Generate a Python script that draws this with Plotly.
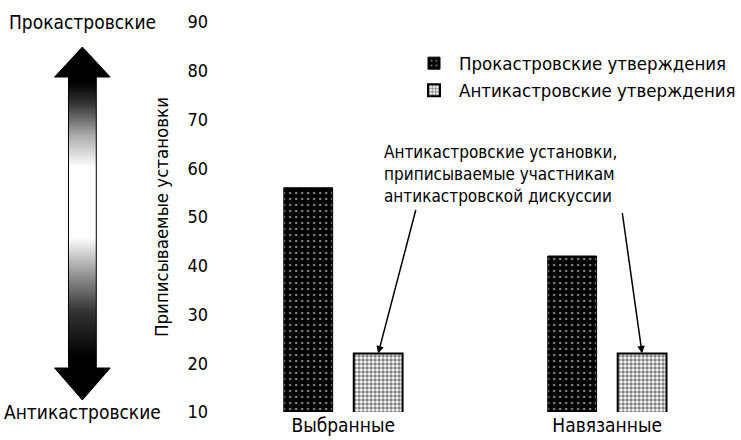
import plotly.graph_objects as go

categories = ["Выбранные", "Навязанные"]
pro_values = [56, 42]
anti_values = [22, 22]
series_names = ["Прокастровские утверждения", "Антикастровские утверждения"]
y_ticks = [10, 20, 30, 40, 50, 60, 70, 80, 90]
y_title = "Приписываемые установки"
top_label = "Прокастровские"
bottom_label = "Антикастровские"
note_text = "Антикастровские установки,<br>приписываемые участникам<br>антикастровской дискуссии"

FONT = "DejaVu Sans Condensed, Liberation Sans Narrow, Liberation Sans, sans-serif"
W, H = 741, 440
ML, MR, MT, MB = 0, 10, 22, 28
PW = W - ML - MR
PH = H - MT - MB
X0 = 210  # left edge of bar plot in px

def py2val(py):
    return 90 - (py - MT) * 80.0 / PH

fig = go.Figure()

BW = 0.185
fig.add_trace(go.Bar(
    x=categories, y=pro_values, name=series_names[0],
    width=BW, offset=-0.225,
    marker=dict(color="black", line=dict(color="black", width=1),
                pattern=dict(shape=".", bgcolor="black", fgcolor="white", size=6, solidity=0.15)),
))
fig.add_trace(go.Bar(
    x=categories, y=anti_values, name=series_names[1],
    width=BW, offset=0.04,
    marker=dict(color="white", line=dict(color="black", width=2),
                pattern=dict(shape=".", bgcolor="white", fgcolor="black", size=4, solidity=0.55)),
))

# decorative double-headed gradient arrow (left)
cx = 83
sh, hd = 14, 28
tip_t, base_t, base_b, tip_b = 47, 77, 368, 400
ax_px = [cx, cx + hd, cx + sh, cx + sh, cx + hd, cx, cx - hd, cx - sh, cx - sh, cx - hd, cx]
ay_px = [tip_t, base_t, base_t, base_b, base_b, tip_b, base_b, base_b, base_t, base_t, tip_t]
fig.add_trace(go.Scatter(
    x=ax_px, y=[py2val(v) for v in ay_px], xaxis="x2", yaxis="y",
    mode="lines", line=dict(color="black", width=1), fill="toself",
    fillgradient=dict(type="vertical", colorscale=[
        [0.0, "black"], [0.12, "black"], [0.25, "#333333"], [0.36, "#999999"],
        [0.46, "white"], [0.66, "white"], [0.75, "#aaaaaa"], [0.84, "#333333"],
        [0.9, "black"], [1.0, "black"]]),
    showlegend=False, hoverinfo="skip",
))

dom0 = X0 / (W - MR)
fig.update_layout(
    width=W, height=H,
    margin=dict(l=ML, r=MR, t=MT, b=MB),
    paper_bgcolor="white", plot_bgcolor="white",
    font=dict(family=FONT, color="black", size=18),
    barmode="group",
    showlegend=True,
    legend=dict(x=0.562, y=0.942, xanchor="left", yanchor="top",
                font=dict(size=18.5), bgcolor="rgba(0,0,0,0)", itemwidth=40),
    xaxis=dict(domain=[dom0, 1], range=[-0.508, 1.458], showgrid=False, showline=False,
               ticks="", tickfont=dict(size=19)),
    xaxis2=dict(domain=[0, dom0 - 0.001], range=[0, X0], anchor="y", visible=False),
    yaxis=dict(range=[10, 90], tickvals=y_ticks, showgrid=False, showline=False,
               zeroline=False, ticks="", tickfont=dict(size=18),
               title=dict(text=y_title, font=dict(size=18.5), standoff=14)),
)

fig.add_annotation(x=cx / (W - MR), y=1.0, xref="paper", yref="paper", text=top_label,
                   showarrow=False, font=dict(size=19), xanchor="center", yanchor="middle")
fig.add_annotation(x=cx / (W - MR), y=0.0, xref="paper", yref="paper", text=bottom_label,
                   showarrow=False, font=dict(size=19), xanchor="center", yanchor="middle")
fig.add_annotation(x=384 / (W - MR), y=(H - MB - 174) / PH, xref="paper", yref="paper",
                   text=note_text, showarrow=False, align="left", xanchor="left",
                   yanchor="middle", font=dict(size=17))
fig.add_annotation(x=0 + 0.04 + BW / 2, y=anti_values[0], xref="x", yref="y", text="",
                   showarrow=True, ax=38, ay=-145, arrowhead=2, arrowsize=1,
                   arrowwidth=1.5, arrowcolor="black")
fig.add_annotation(x=1 + 0.04 + BW / 2, y=anti_values[1], xref="x", yref="y", text="",
                   showarrow=True, ax=-20, ay=-142, arrowhead=2, arrowsize=1,
                   arrowwidth=1.5, arrowcolor="black")

fig.write_html("out.html", config={"displayModeBar": False},
               post_script="document.body.style.margin='0';")
